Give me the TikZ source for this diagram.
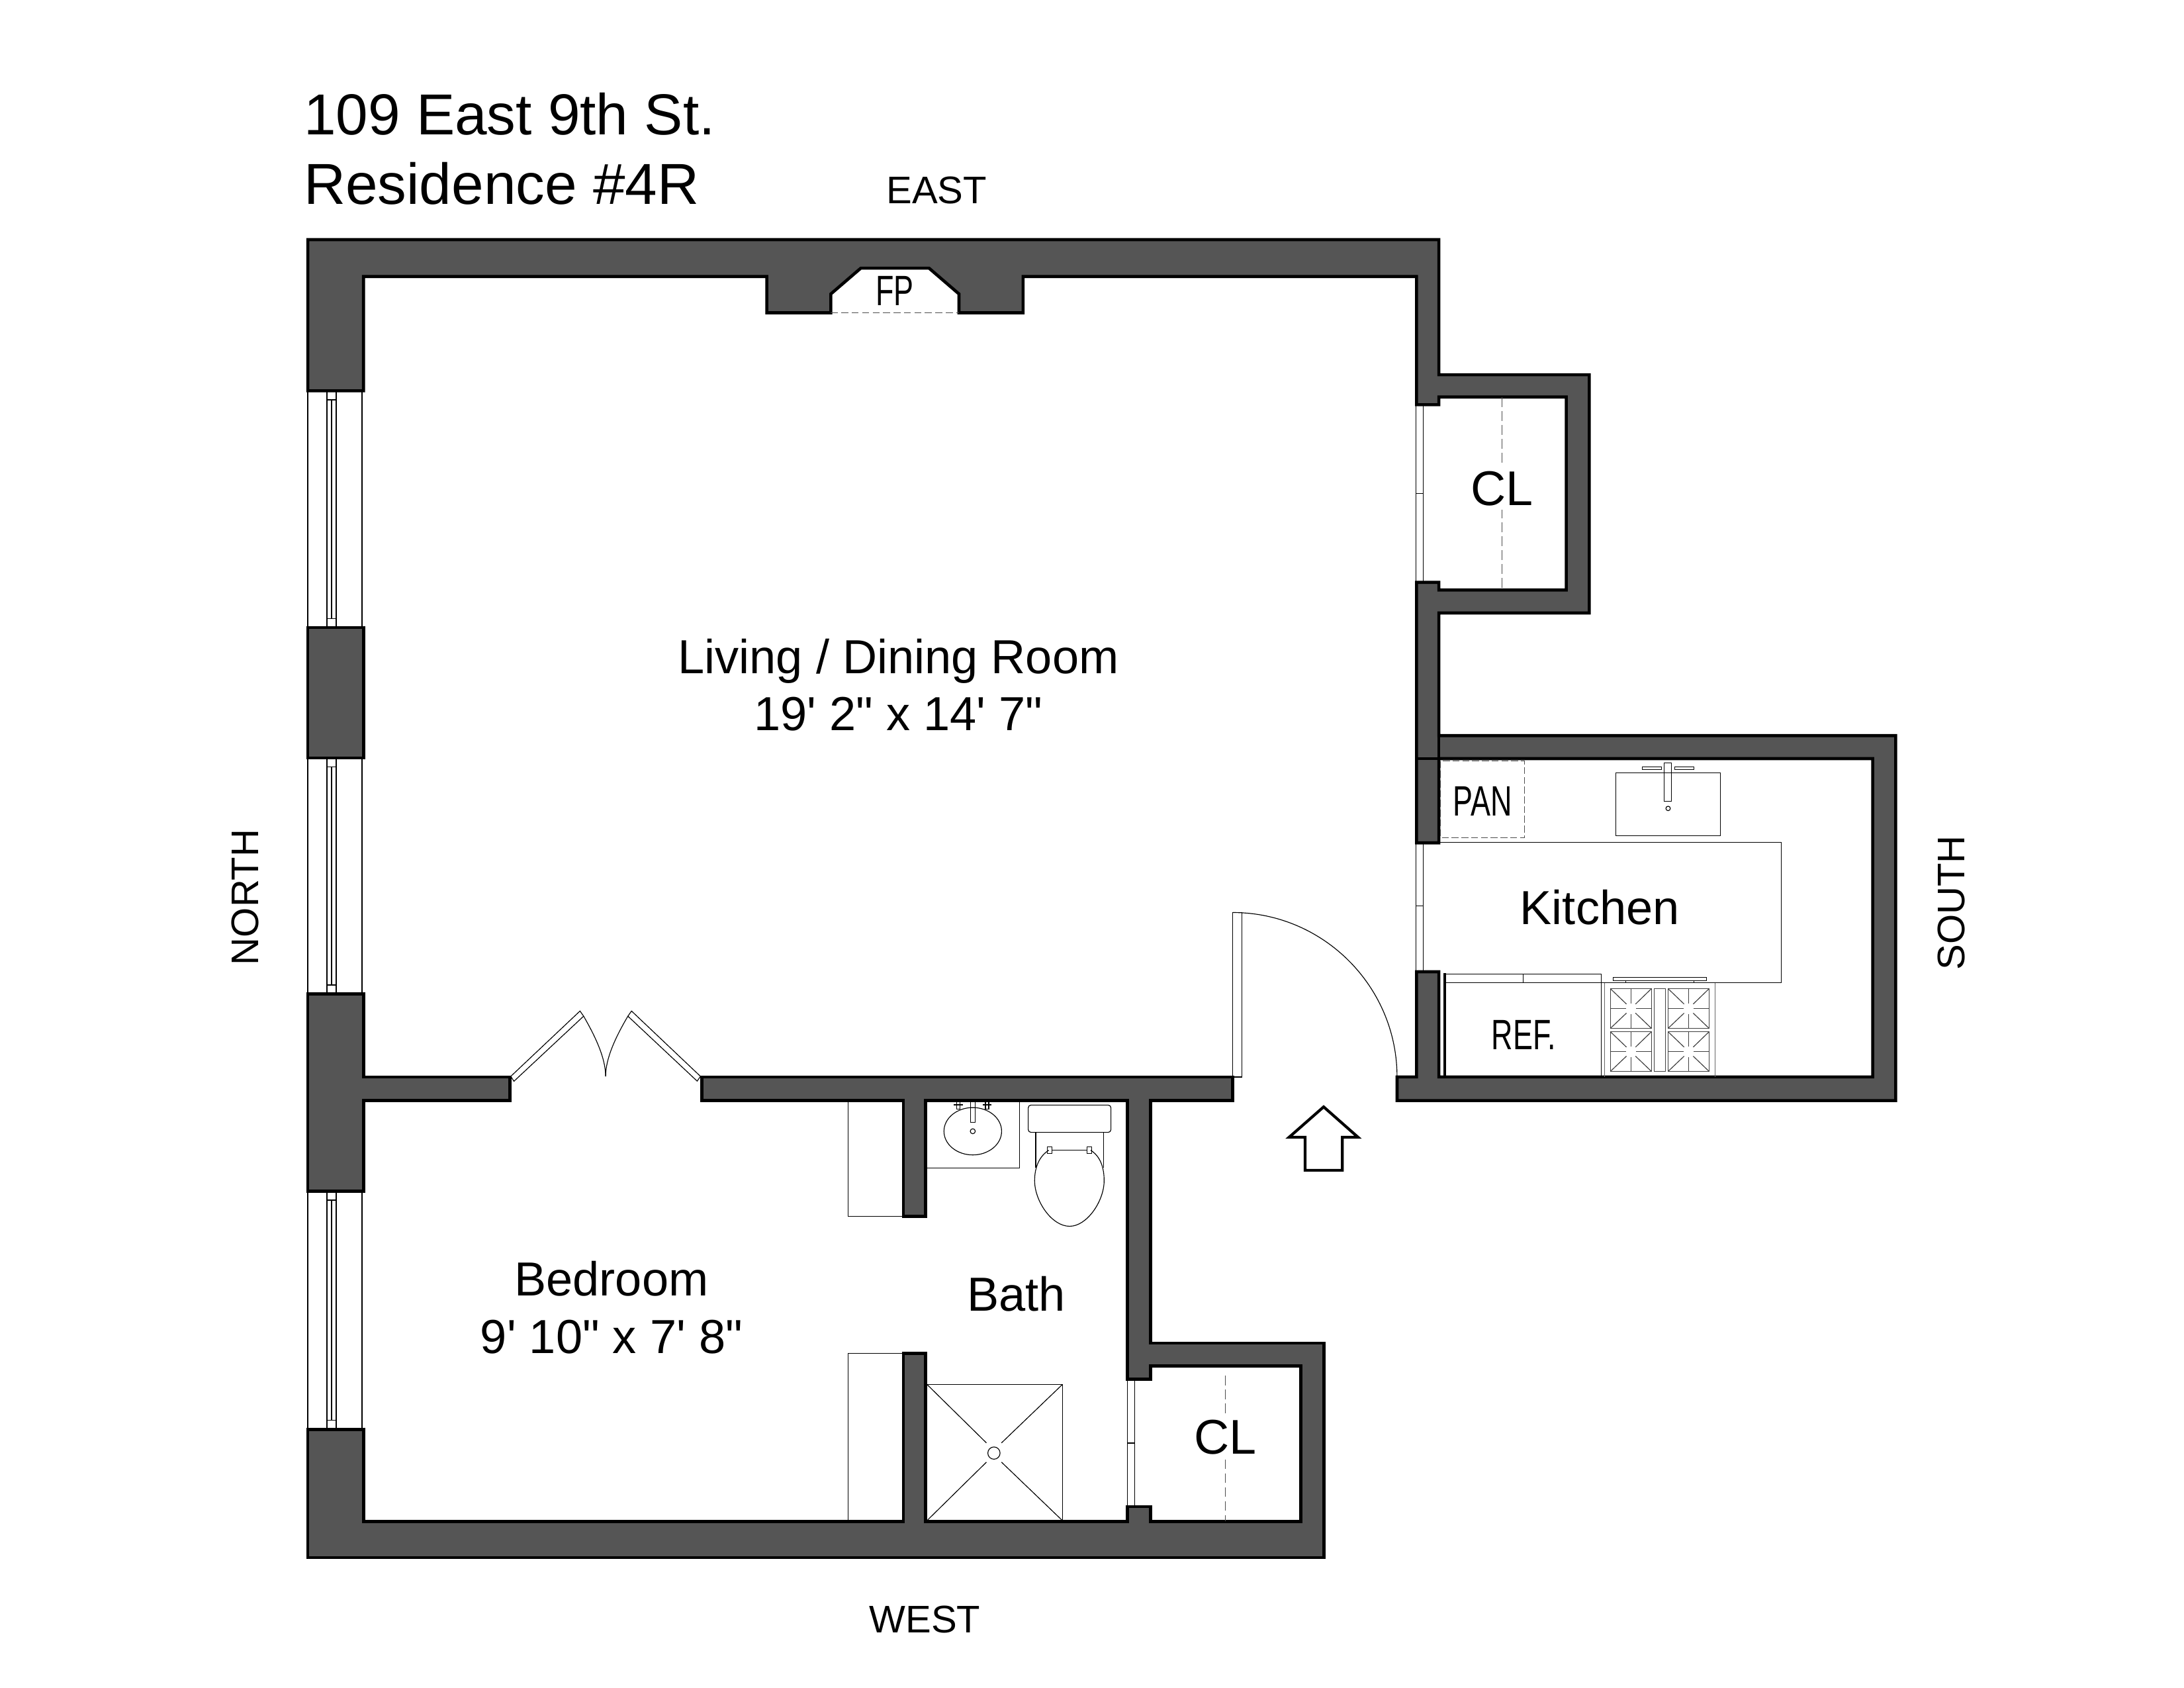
\documentclass[tikz,border=0pt]{standalone}
\usepackage{fontspec}
\newfontfamily\planfont{Liberation Sans}
\definecolor{wallgray}{HTML}{555555}
\newcommand{\narrowtxt}[1]{\scalebox{.7}[1]{#1}}
\tikzset{
	wall/.style={draw=black,fill=wallgray,line width=2.2pt,miter limit=4},
	thinline/.style={draw=black,line width=.7pt},
	fixture/.style={draw=black,line width=.55pt},
	burnerline/.style={draw=black!75,line width=.55pt},
	dashline/.style={draw=black!70,line width=.6pt,dash pattern=on 7pt off 3pt},
	roomlabel/.style={font=\planfont\fontsize{34.3}{41}\selectfont,align=center,inner sep=0pt},
	closetlabel/.style={font=\planfont\fontsize{35}{41}\selectfont,fill=white,inner sep=3pt},
	compasslabel/.style={font=\planfont\fontsize{27.6}{32}\selectfont,inner sep=0pt},
	titlelabel/.style={font=\planfont\fontsize{41.5}{50}\selectfont,inner sep=0pt,anchor=base west},
	smalllabel/.style={font=\planfont\fontsize{30.5}{36}\selectfont,inner sep=0pt}
}
\begin{document}
\begin{tikzpicture}[x=1pt,y=-1pt]
	\useasboundingbox[fill=white] (0,0) rectangle (1568,1211.6);
	% walls
	\draw[wall] (221,172) -- (1033,172) -- (1033,269) -- (1141,269) -- (1141,440) -- (1033,440) -- (1033,528) -- (1361,528) -- (1361,790) -- (1003,790) -- (1003,773) -- (1017,773) -- (1017,697.5) -- (1033,697.5) -- (1033,773) -- (1344.5,773) -- (1344.5,544.5) -- (1033,544.5) -- (1033,605) -- (1017,605) -- (1017,418) -- (1033,418) -- (1033,423.5) -- (1124.5,423.5) -- (1124.5,285) -- (1033,285) -- (1033,290.5) -- (1017,290.5) -- (1017,198.5) -- (734.5,198.5) -- (734.5,224.5) -- (688.5,224.5) -- (688.5,211) -- (667,192.5) -- (618,192.5) -- (596.5,211) -- (596.5,224.5) -- (550.5,224.5) -- (550.5,198.5) -- (261,198.5) -- (261,280.5) -- (221,280.5) -- cycle;
	\draw[wall] (221,450.5) rectangle (261,544);
	\draw[wall] (221,713.5) -- (261,713.5) -- (261,773) -- (366,773) -- (366,790) -- (261,790) -- (261,855) -- (221,855) -- cycle;
	\draw[wall] (504,773) -- (885,773) -- (885,790) -- (826,790) -- (826,964) -- (950.5,964) -- (950.5,1118) -- (221,1118) -- (221,1026) -- (261,1026) -- (261,1092) -- (648.5,1092) -- (648.5,971.5) -- (664.5,971.5) -- (664.5,1092) -- (809.5,1092) -- (809.5,1081.5) -- (826,1081.5) -- (826,1092) -- (934,1092) -- (934,980.5) -- (826,980.5) -- (826,990) -- (809.5,990) -- (809.5,790) -- (664.5,790) -- (664.5,873) -- (648.5,873) -- (648.5,790) -- (504,790) -- cycle;
	\draw[black,line width=2.2pt] (1017,544.5) -- (1033,544.5) (1033,528) -- (1033,544.5);
	% windows
	\foreach \wtop/\wbot in {280.5/450.5,544/713.5,855/1026}{
		\draw[thinline] (221,\wtop) -- (221,\wbot) (260,\wtop) -- (260,\wbot);
		\draw[thinline] (234.7,\wtop) -- (234.7,\wbot) (241.4,\wtop) -- (241.4,\wbot);
		\draw[thinline] (238,\wtop+6.5) -- (238,\wbot-6.5);
		\draw[thinline] (234.7,\wtop+6.5) -- (241.4,\wtop+6.5) (234.7,\wbot-6.5) -- (241.4,\wbot-6.5);
	}
	% openings of the closets and the kitchen
	\foreach \ox/\otop/\omid/\obot in {1016.5/290.5/354.2/418,1016.5/605/650.2/697.5,809.5/990/1035.8/1081.5}{
		\draw[fixture] (\ox,\otop) rectangle (\ox+5.3,\obot);
		\draw[fixture] (\ox,\omid) -- (\ox+5.3,\omid);
	}
	% fireplace opening and closet rods
	\draw[dashline,line width=.5pt,dash pattern=on 5pt off 2.5pt] (596.5,224.5) -- (688.5,224.5);
	\draw[dashline] (1078.3,285) -- (1078.3,423.5);
	\draw[dashline] (879.7,987.5) -- (879.7,1092);
	% folding door
	\draw[fixture] (366.7,772.6) -- (416.4,725.7) -- (419,729.4) -- (369,776.1) -- cycle;
	\draw[fixture] (502.9,772.6) -- (453.4,725.7) -- (450.8,729.4) -- (500.5,776) -- cycle;
	\draw[fixture] (419,729.4) .. controls (428,745) and (434.8,760) .. (434.8,772.6);
	\draw[fixture] (450.8,729.4) .. controls (441.6,745) and (434.8,760) .. (434.8,772.6);
	% entry door
	\draw[thinline] (885,655) rectangle (891.5,773);
	\draw[fixture] (885,655) .. controls (950,655) and (1003,708) .. (1003,773);
	% entry arrow
	\draw[draw=black,line width=2pt] (950.3,794.5) -- (975,816.3) -- (963.7,816.3) -- (963.7,840) -- (937,840) -- (937,816.3) -- (925.5,816.3) -- cycle;
	% bedroom closets
	\draw[fixture] (648.5,789) -- (608.9,789) -- (608.9,873) -- (648.5,873);
	\draw[fixture] (648.5,971.5) -- (608.9,971.5) -- (608.9,1092);
	% vanity
	\draw[fixture] (664.5,838.3) -- (731.9,838.3) -- (731.9,790);
	\draw[fixture] (698.4,812) ellipse (20.7 and 17);
	\draw[fixture] (696.7,790.5) rectangle (700,805.5);
	\draw[fixture] (698.4,812) circle (1.8);
	\foreach \hx in {688,708.7}{
		\draw[fixture] (\hx-3.3,793) -- (\hx+3.3,793) (\hx-1.2,791) rectangle (\hx+1.2,796);
	}
	% toilet
	\draw[fixture,rounded corners=2pt] (738.2,793.2) rectangle (797.6,812.8);
	\draw[fixture] (743.6,812.8) -- (743.6,838) (792.5,812.8) -- (792.5,838);
	\draw[fixture] (753,825.6) .. controls (746,830) and (742.8,838) .. (742.8,847.5) .. controls (742.8,862) and (755,880.2) .. (767.9,880.2) .. controls (780.5,880.2) and (792.7,862) .. (792.7,847.5) .. controls (792.7,838) and (790,830) .. (783,825.6);
	\draw[fixture] (755.4,825.6) -- (780.5,825.6);
	\draw[fixture] (752,823.2) rectangle (755.4,828);
	\draw[fixture] (780.5,823.2) rectangle (783.7,828);
	% shower
	\draw[fixture] (665.6,1091.4) -- (665.6,993.8) -- (762.7,993.8) -- (762.7,1091.4);
	\draw[fixture] (713.6,1043) circle (4.4);
	\draw[fixture] (665.6,993.8) -- (708.2,1035.7) (762.7,993.8) -- (719,1035.7) (665.6,1091.4) -- (708.2,1049.5) (762.7,1091.4) -- (719,1049.5);
	% kitchen counter and pantry
	\draw[fixture] (1033,604.7) -- (1278.9,604.7) -- (1278.9,705.4) -- (1037.3,705.4);
	\draw[dashline,line width=.5pt,dash pattern=on 5pt off 2pt] (1034.3,546.2) rectangle (1094.5,601.3);
	% kitchen sink
	\draw[fixture] (1160,554.6) rectangle (1235,599.8);
	\draw[fixture] (1194.9,547.8) rectangle (1200,575.1);
	\draw[fixture] (1179,550.5) rectangle (1192.7,552.2);
	\draw[fixture] (1202.5,550.5) rectangle (1216.2,552.2);
	\draw[fixture] (1197.6,580.3) circle (1.6);
	% refrigerator
	\draw[black,line width=1.6pt] (1037.3,698.5) -- (1037.3,773);
	\draw[fixture] (1037.3,699.3) -- (1149.6,699.3) -- (1149.6,773);
	\draw[fixture] (1093.4,699.3) -- (1093.4,705.4);
	% range
	\draw[fixture,draw=black!60] (1152,773) -- (1152,705.4) (1231.2,705.4) -- (1231.2,773);
	\draw[fixture] (1158,701.6) rectangle (1225.2,704);
	\draw[fixture] (1167,704) -- (1167,705.4) (1216.2,704) -- (1216.2,705.4);
	\draw[burnerline] (1187.5,709.7) rectangle (1195.7,769);
	\foreach \bx/\by in {1156.2/709.7,1197.6/709.7,1156.2/740.6,1197.6/740.6}{
		\begin{scope}[shift={(\bx,\by)}]
			\draw[burnerline] (0,0) rectangle (29.4,28.4);
			\draw[burnerline] (14.7,0) -- (14.7,10.5) (14.7,18) -- (14.7,28.4) (0,14.2) -- (11,14.2) (18.4,14.2) -- (29.4,14.2);
			\draw[burnerline] (0,0) -- (11.5,11) (29.4,0) -- (18,11) (0,28.4) -- (11.5,17.5) (29.4,28.4) -- (18,17.5);
		\end{scope}
	}
	% labels
	\node[titlelabel] (address) at (218,96.5) {109 East 9th St.};
	\node[titlelabel] (residence) at (218,146.5) {Residence \#4R};
	\node[compasslabel] (east) at (672.5,136.5) {EAST};
	\node[compasslabel] (west) at (664,1162.5) {WEST};
	\node[compasslabel,rotate=90] (north) at (176,644) {NORTH};
	\node[compasslabel,rotate=90] (south) at (1401,648) {SOUTH};
	\node[roomlabel] (living) at (645,491.5) {Living / Dining Room\\19' 2" x 14' 7"};
	\node[roomlabel] (bedroom) at (439,938.5) {Bedroom\\9' 10" x 7' 8"};
	\node[roomlabel] (bath) at (729.5,929) {Bath};
	\node[roomlabel] (kitchen) at (1148.5,651.5) {Kitchen};
	\node[closetlabel] (closetnorth) at (1078.3,350.5) {CL};
	\node[closetlabel] (closetsouth) at (879.7,1031.5) {CL};
	\node[smalllabel] (fp) at (642.4,208.9) {\narrowtxt{FP}};
	\node[smalllabel] (pan) at (1064.3,575) {\narrowtxt{PAN}};
	\node[smalllabel] (ref) at (1094,743) {\narrowtxt{REF.}};
\end{tikzpicture}
\end{document}
